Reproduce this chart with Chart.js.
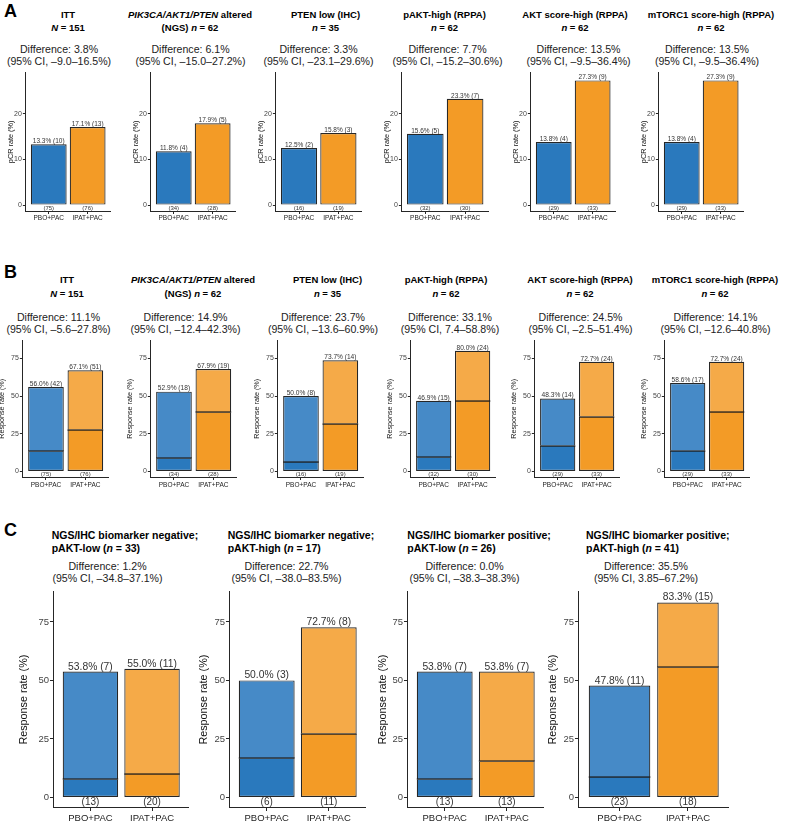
<!DOCTYPE html>
<html>
<head>
<meta charset="utf-8">
<script src="https://cdn.jsdelivr.net/npm/chart.js@4.4.0/dist/chart.umd.min.js"></script>
<style>
  html, body { margin: 0; padding: 0; background: #fff; }
  body { width: 785px; height: 825px; position: relative; overflow: hidden;
         font-family: "Liberation Sans", Arial, Helvetica, sans-serif; }
  .t { position: absolute; white-space: nowrap; line-height: 1.2; color: #000; }
</style>
</head>
<body>
<script>
// ---- data -------------------------------------------------------------
var ARMS = ['PBO+PAC', 'IPAT+PAC'];

var SUBGROUP_LINE1 = ['ITT', '<i>PIK3CA/AKT1/PTEN</i> altered', 'PTEN low (IHC)',
  'pAKT-high (RPPA)', 'AKT score-high (RPPA)', 'mTORC1 score-high (RPPA)'];
var SUBGROUP_LINE2 = ['<i>N</i> = 151', '(NGS) <i>n</i> = 62', '<i>n</i> = 35',
  '<i>n</i> = 62', '<i>n</i> = 62', '<i>n</i> = 62'];
var PBO_N = [75, 34, 16, 32, 29, 29];
var IPAT_N = [76, 28, 19, 30, 33, 33];

// A: pCR rate (%)
var A_PBO_RATE = [13.3, 11.8, 12.5, 15.6, 13.8, 13.8];
var A_IPAT_RATE = [17.1, 17.9, 15.8, 23.3, 27.3, 27.3];
var A_PBO_EVENTS = [10, 4, 2, 5, 4, 4];
var A_IPAT_EVENTS = [13, 5, 3, 7, 9, 9];
var A_DIFF = ['3.8', '6.1', '3.3', '7.7', '13.5', '13.5'];
var A_CI = ['–9.0–16.5', '–15.0–27.2', '–23.1–29.6', '–15.2–30.6', '–9.5–36.4', '–9.5–36.4'];
var A_TICKS = [0, 10, 20];

// B: response rate (%), darker lower part of each bar
var B_PBO_RATE = [56.0, 52.9, 50.0, 46.9, 48.3, 58.6];
var B_IPAT_RATE = [67.1, 67.9, 73.7, 80.0, 72.7, 72.7];
var B_PBO_LOWER = [13.3, 8.8, 6.3, 9.4, 17.2, 13.8];
var B_IPAT_LOWER = [27.6, 39.3, 31.6, 46.7, 36.4, 39.4];
var B_PBO_EVENTS = [42, 18, 8, 15, 14, 17];
var B_IPAT_EVENTS = [51, 19, 14, 24, 24, 24];
var B_DIFF = ['11.1', '14.9', '23.7', '33.1', '24.5', '14.1'];
var B_CI = ['–5.6–27.8', '–12.4–42.3', '–13.6–60.9', '7.4–58.8', '–2.5–51.4', '–12.6–40.8'];
var RESP_TICKS = [0, 25, 50, 75];

// C: response rate (%) by biomarker combination
var C_LINE1 = ['NGS/IHC biomarker negative;', 'NGS/IHC biomarker negative;',
  'NGS/IHC biomarker positive;', 'NGS/IHC biomarker positive;'];
var C_LINE2 = ['pAKT-low (<i>n</i> = 33)', 'pAKT-high (<i>n</i> = 17)',
  'pAKT-low (<i>n</i> = 26)', 'pAKT-high (<i>n</i> = 41)'];
var C_PBO_RATE = [53.8, 50.0, 53.8, 47.8];
var C_IPAT_RATE = [55.0, 72.7, 53.8, 83.3];
var C_PBO_LOWER = [7.7, 16.7, 7.7, 8.7];
var C_IPAT_LOWER = [10.0, 27.3, 15.4, 55.6];
var C_PBO_EVENTS = [7, 3, 7, 11];
var C_IPAT_EVENTS = [11, 8, 7, 15];
var C_PBO_N = [13, 6, 13, 23];
var C_IPAT_N = [20, 11, 13, 18];
var C_DIFF = ['1.2', '22.7', '0.0', '35.5'];
var C_CI = ['–34.8–37.1', '–38.0–83.5', '–38.3–38.3', '3.85–67.2'];

// ---- drawing ----------------------------------------------------------
(function () {
  'use strict';
  var FONT = '"Liberation Sans", Arial, Helvetica, sans-serif';
  var BLUE = '#2a79bd', ORANGE = '#f39b26';
  var LIGHT_BLUE = '#468ac7', LIGHT_ORANGE = '#f5aa48';
  var EDGE = '#262626';
  Chart.defaults.font.family = FONT;

  function addText(html, x, cy, size, bold, center, color) {
    var d = document.createElement('div');
    d.className = 't';
    d.innerHTML = html;
    d.style.fontSize = size + 'px';
    d.style.fontWeight = bold ? 'bold' : 'normal';
    d.style.top = (cy - 0.59 * size) + 'px';
    d.style.left = x + 'px';
    if (color) d.style.color = color;
    if (center) d.style.transform = 'translateX(-50%)';
    document.body.appendChild(d);
  }

  function pct(v, k) { return v.toFixed(1) + '% (' + k + ')'; }

  function drawPanel(p) {
    var wrap = document.createElement('div');
    wrap.style.position = 'absolute';
    var cv = document.createElement('canvas');
    cv.width = Math.round(p.w + p.axisW + 30);
    cv.height = Math.round(p.h + 40);
    wrap.appendChild(cv);
    document.body.appendChild(wrap);

    var datasets;
    var common = { grouped: false, borderColor: EDGE, borderSkipped: false, inflateAmount: 0,
                   categoryPercentage: 1, barPercentage: p.barPct };
    if (p.lower) {
      datasets = [
        Object.assign({ data: [{ x: 1, y: p.lower[0] }, { x: 2, y: p.lower[1] }],
          backgroundColor: [BLUE, ORANGE],
          borderWidth: { top: 0, left: 1.2, right: 1.2, bottom: 1.2 } }, common),
        Object.assign({ data: [{ x: 1, y: [p.lower[0], p.rate[0]] }, { x: 2, y: [p.lower[1], p.rate[1]] }],
          backgroundColor: [LIGHT_BLUE, LIGHT_ORANGE],
          borderWidth: { top: 1.2, left: 1.2, right: 1.2, bottom: 0 } }, common)
      ];
    } else {
      datasets = [Object.assign({ data: [{ x: 1, y: p.rate[0] }, { x: 2, y: p.rate[1] }],
        backgroundColor: [BLUE, ORANGE], borderWidth: 1.2 }, common)];
    }

    var labelPlugin = {
      id: 'barLabels',
      afterDatasetsDraw: function (chart) {
        var ctx = chart.ctx, xs = chart.scales.x, ys = chart.scales.y;
        var bars = chart.getDatasetMeta(0).data;
        ctx.save();
        for (var i = 0; i < 2; i++) {
          var cx = xs.getPixelForValue(i + 1);
          if (p.lower) {
            // boundary between the darker and lighter part of the bar
            var half = bars[i].width / 2;
            ctx.fillStyle = '#1e1e1e';
            ctx.fillRect(cx - half, Math.round(ys.getPixelForValue(p.lower[i])) - 0.6, half * 2, 1.3);
          }
          ctx.fillStyle = '#333';
          ctx.textAlign = 'center';
          ctx.font = p.fs.val + 'px ' + FONT;
          ctx.textBaseline = 'bottom';
          ctx.fillText(pct(p.rate[i], p.events[i]), cx, ys.getPixelForValue(p.rate[i]) + 0.3);
          ctx.font = p.fs.n + 'px ' + FONT;
          ctx.textBaseline = 'top';
          ctx.fillText('(' + p.n[i] + ')', cx, ys.getPixelForValue(0) + 0.3);
        }
        ctx.restore();
      }
    };

    var chart = new Chart(cv.getContext('2d'), {
      type: 'bar',
      data: { datasets: datasets },
      plugins: [labelPlugin],
      options: {
        responsive: false,
        maintainAspectRatio: false,
        animation: false,
        events: [],
        layout: { padding: 0 },
        plugins: { legend: { display: false }, tooltip: { enabled: false } },
        scales: {
          x: {
            type: 'linear', min: 0.4, max: 2.6, offset: false,
            afterBuildTicks: function (s) { s.ticks = [{ value: 1 }, { value: 2 }]; },
            ticks: { callback: function (v) { return ARMS[v - 1]; }, autoSkip: false, maxRotation: 0,
                     font: { size: p.fs.x }, color: '#222', padding: p.xPad },
            grid: { offset: false, drawOnChartArea: false, tickLength: p.tickLen, color: EDGE },
            border: { color: EDGE, width: 1 }
          },
          y: {
            type: 'linear', min: p.yMin, max: p.yMax,
            afterBuildTicks: function (s) { s.ticks = p.ticks.map(function (v) { return { value: v }; }); },
            afterFit: function (s) { s.width = p.axisW; },
            ticks: { font: { size: p.fs.tick }, color: '#444', padding: 1 },
            grid: { drawOnChartArea: false, tickLength: p.tickLen, color: EDGE },
            border: { color: EDGE, width: 1 },
            title: { display: true, text: p.yTitle, font: { size: p.fs.title }, color: '#111', padding: 0 }
          }
        }
      }
    });

    var ca = chart.chartArea;
    chart.resize(Math.round(chart.width + p.w - (ca.right - ca.left)),
                 Math.round(chart.height + p.h - (ca.bottom - ca.top)));
    ca = chart.chartArea;
    wrap.style.left = Math.round(p.x - ca.left) + 'px';
    wrap.style.top = Math.round(p.y - ca.top) + 'px';
  }

  // panel letters
  addText('A', 4, 11.5, 18, true);
  addText('B', 4, 273, 18, true);
  addText('C', 4, 531, 18, true);

  // ---- row A ----
  var A_X = [25.3, 150.5, 275.5, 401.8, 530.5, 658.8];
  var A_W = [85.5, 86, 87, 87.5, 85.5, 85.5];
  var A_TITLE_X = [68, 190, 325.5, 444.5, 575, 711];
  var A_DIFF_X = [59, 190.5, 318.5, 447.5, 578.5, 707];
  for (var i = 0; i < 6; i++) {
    addText(SUBGROUP_LINE1[i], A_TITLE_X[i], 15, 9.5, true, true);
    addText(SUBGROUP_LINE2[i], A_TITLE_X[i], 27.5, 9.5, true, true);
    addText('Difference: ' + A_DIFF[i] + '%', A_DIFF_X[i], 49.3, 10.6, false, true, '#222');
    addText('(95% CI, ' + A_CI[i] + '%)', A_DIFF_X[i], 61.7, 10.6, false, true, '#222');
    drawPanel({
      x: A_X[i], y: 72, w: A_W[i], h: 139, yMin: -1.4, yMax: 29.1, ticks: A_TICKS,
      axisW: 14 + 0.6 * 7.3, yTitle: 'pCR rate (%)', tickLen: 2.5, xPad: 0.6, barPct: 0.92,
      fs: { tick: 7, title: 7.3, x: 6.5, val: 6.5, n: 6 },
      rate: [A_PBO_RATE[i], A_IPAT_RATE[i]], events: [A_PBO_EVENTS[i], A_IPAT_EVENTS[i]],
      n: [PBO_N[i], IPAT_N[i]]
    });
  }

  // ---- row B ----
  var B_X = [22.5, 150.5, 277.5, 410.5, 534.4, 664.4];
  var B_W = [87, 86.5, 86.8, 86, 86, 86];
  var B_TITLE_X = [67, 193, 327.5, 446, 580, 715];
  var B_DIFF_X = [58.5, 185.5, 323, 450, 580.5, 715.5];
  for (var j = 0; j < 6; j++) {
    addText(SUBGROUP_LINE1[j], B_TITLE_X[j], 280, 9.5, true, true);
    addText(SUBGROUP_LINE2[j], B_TITLE_X[j], 293.3, 9.5, true, true);
    addText('Difference: ' + B_DIFF[j] + '%', B_DIFF_X[j], 317, 10.6, false, true, '#222');
    addText('(95% CI, ' + B_CI[j] + '%)', B_DIFF_X[j], 329, 10.6, false, true, '#222');
    drawPanel({
      x: B_X[j], y: 340, w: B_W[j], h: 137.5, yMin: -4, yMax: 87, ticks: RESP_TICKS,
      axisW: 20 + 0.6 * 7.2, yTitle: 'Response rate (%)', tickLen: 2.5, xPad: 1.1, barPct: 0.905,
      fs: { tick: 7, title: 7.2, x: 6.5, val: 6.6, n: 6 },
      rate: [B_PBO_RATE[j], B_IPAT_RATE[j]], lower: [B_PBO_LOWER[j], B_IPAT_LOWER[j]],
      events: [B_PBO_EVENTS[j], B_IPAT_EVENTS[j]], n: [PBO_N[j], IPAT_N[j]]
    });
  }

  // ---- row C ----
  var C_X = [53.5, 229.5, 407, 578];
  var C_W = [135.7, 137, 136.5, 151];
  var C_TITLE_X = [51.7, 227.7, 407.3, 586];
  var C_DIFF_X = [107.5, 286.5, 464.5, 646];
  var C_TITLE_OFF = [29, 25, 24, 25];
  for (var k = 0; k < 4; k++) {
    addText(C_LINE1[k], C_TITLE_X[k], 535, 10.5, true, false);
    addText(C_LINE2[k], C_TITLE_X[k], 548.3, 10.5, true, false);
    addText('Difference: ' + C_DIFF[k] + '%', C_DIFF_X[k], 566.7, 10.6, false, true, '#222');
    addText('(95% CI, ' + C_CI[k] + '%)', C_DIFF_X[k], 578.3, 10.6, false, true, '#222');
    drawPanel({
      x: C_X[k], y: 592, w: C_W[k], h: 215.8, yMin: -4.3, yMax: 87.9, ticks: RESP_TICKS,
      axisW: C_TITLE_OFF[k] + 0.6 * 10.8, yTitle: 'Response rate (%)', tickLen: 3.5, xPad: 1.8, barPct: 0.9,
      fs: { tick: 9.5, title: 10.8, x: 9.5, val: 10.3, n: 10 },
      rate: [C_PBO_RATE[k], C_IPAT_RATE[k]], lower: [C_PBO_LOWER[k], C_IPAT_LOWER[k]],
      events: [C_PBO_EVENTS[k], C_IPAT_EVENTS[k]], n: [C_PBO_N[k], C_IPAT_N[k]]
    });
  }
})();
</script>
</body>
</html>
